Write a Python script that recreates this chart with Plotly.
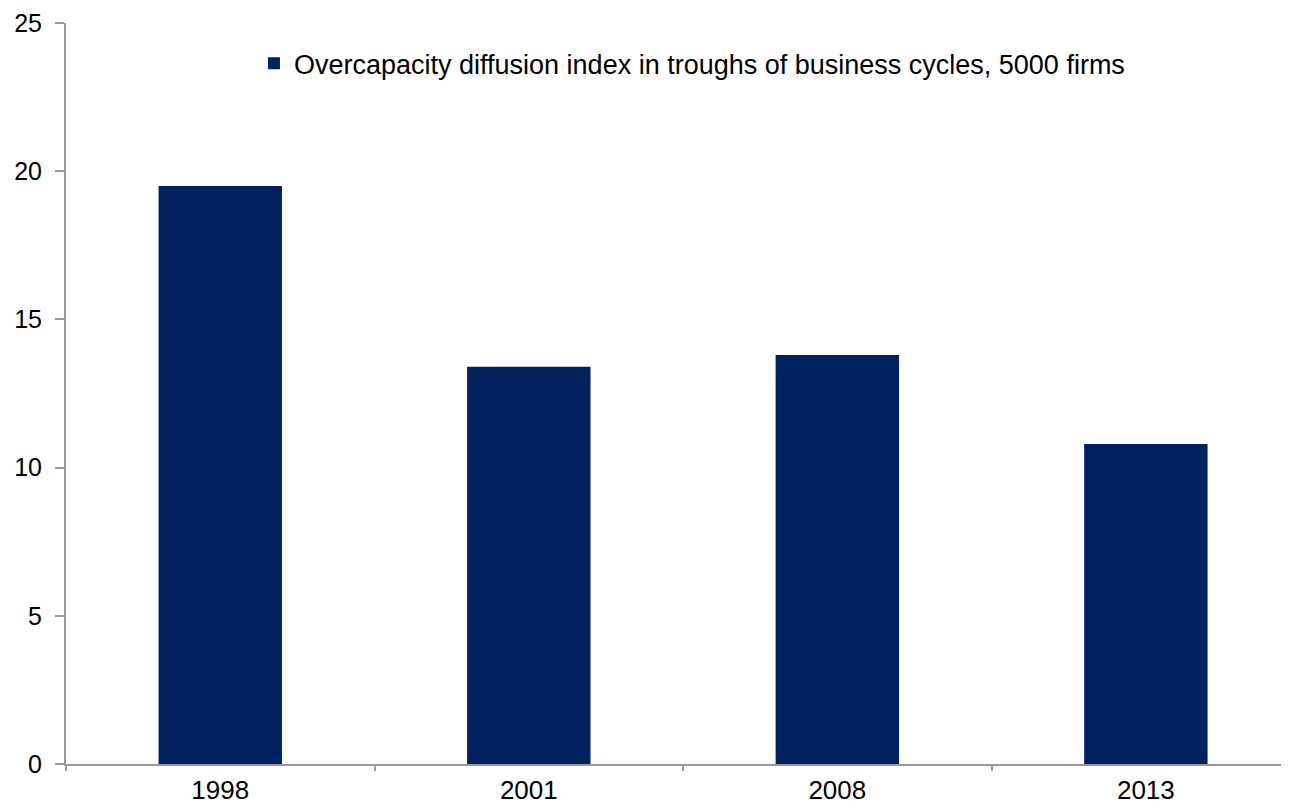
import plotly.graph_objects as go

categories = ["1998", "2001", "2008", "2013"]
values = [19.5, 13.4, 13.8, 10.8]
series_name = "Overcapacity diffusion index in troughs of business cycles, 5000 firms"
y_ticks = [0, 5, 10, 15, 20, 25]

fig = go.Figure()
fig.add_trace(go.Bar(
    x=categories, y=values, name=series_name,
    marker=dict(color="#002060", line=dict(width=0)),
    showlegend=True,
))

axis_color = "#999999"
fig.update_layout(
    width=1273, height=800,
    margin=dict(l=58, r=0, t=15, b=44, autoexpand=False),
    paper_bgcolor="white", plot_bgcolor="white",
    font=dict(family="Liberation Sans, Arial, sans-serif", size=27, color="#000000"),
    bargap=0.6,
    showlegend=True,
    legend=dict(x=0.1547, y=0.945, xanchor="left", yanchor="middle",
                bgcolor="rgba(0,0,0,0)", font=dict(size=27),
                itemwidth=30),
    xaxis=dict(
        type="category", range=[-0.5, 3.438], automargin=False,
        showline=True, linecolor=axis_color, linewidth=2,
        ticks="outside", ticklen=5, tickcolor=axis_color, tickwidth=2,
        tickson="boundaries", showgrid=False, zeroline=False,
        tickfont=dict(size=26), ticklabelstandoff=2,
    ),
    yaxis=dict(
        range=[0, 25], tickvals=y_ticks, automargin=False,
        showline=True, linecolor=axis_color, linewidth=2,
        ticks="outside", ticklen=9, tickcolor=axis_color, tickwidth=2,
        showgrid=False, zeroline=False,
        tickfont=dict(size=25), ticklabelstandoff=8,
        ticklabeloverflow="allow",
    ),
)

fig.write_html("out.html")
